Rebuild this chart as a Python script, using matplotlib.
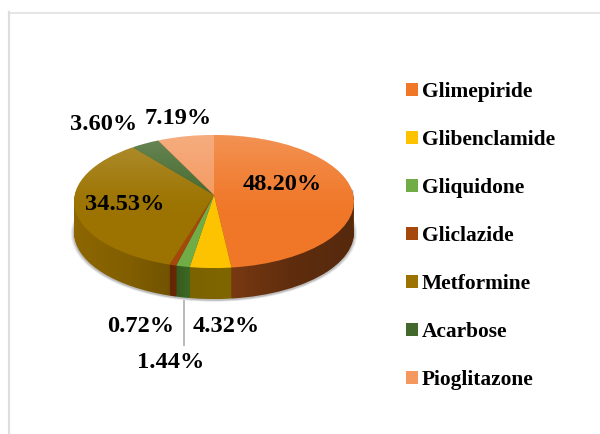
import numpy as np
import matplotlib
matplotlib.use("Agg")
import matplotlib.pyplot as plt
from matplotlib.patches import Patch, Circle
from matplotlib.path import Path
from matplotlib.transforms import Affine2D, Transform

categories = ["Glimepiride", "Glibenclamide", "Gliquidone", "Gliclazide",
              "Metformine", "Acarbose", "Pioglitazone"]
values = [48.20, 4.32, 1.44, 0.72, 34.53, 3.60, 7.19]
top_colors = ["#f07728", "#fdc200", "#70ad47", "#a5480c", "#9c7300", "#43682b", "#f4985f"]
side_colors = ["#7a3a12", "#826800", "#406e25", "#7e3006", "#8c6600", "#33501f", "#a0562a"]
value_labels = ["48.20%", "4.32%", "1.44%", "0.72%", "34.53%", "3.60%", "7.19%"]
label_pos = [(282, 185), (226, 327), (171, 362), (141, 326), (125, 204), (104, 124), (178, 119)]

plt.rcParams["font.family"] = ["Liberation Serif", "DejaVu Serif"]
fig = plt.figure(figsize=(6.0, 4.34), dpi=100)
ax = fig.add_axes([0, 0, 1, 1])
ax.set_axis_off()


class Persp(Transform):
    input_dims = output_dims = 2
    is_separable = False

    def __init__(self, k):
        super().__init__()
        self.k = k

    def transform_non_affine(self, v):
        v = np.asarray(v, float)
        w = 1 + self.k * v[:, 1]
        return np.column_stack([v[:, 0] / w, v[:, 1] / w])


CX, CY, SX, SY, K, DEPTH = 214, 195, 139.3, 65.9, 0.098, 31
persp = Persp(K) + Affine2D().scale(SX, -SY).translate(CX, CY)


def to_display(dy=0):
    return persp + Affine2D().translate(0, dy) + ax.transData


# soft shadow under the disc
for grow, alpha in [(1.022, 0.10), (1.014, 0.14), (1.007, 0.20)]:
    c = Circle((0, 0), grow, fc="#555555", ec="none", alpha=alpha, zorder=1)
    ax.add_patch(c)
    c.set_transform(to_display(DEPTH + 1))

# side wall: pies stacked one pixel apart
for dy in range(DEPTH, 0, -1):
    w, _ = ax.pie(values, colors=side_colors, startangle=90, counterclock=False, frame=True)
    for p in w:
        p.set_transform(to_display(dy))
        p.set_zorder(2)
        p.set_linewidth(0)

# horizontal shading of the side wall
theta = np.linspace(np.pi, 2 * np.pi, 200)
ring = Persp(K).transform_non_affine(np.column_stack([np.cos(theta), np.sin(theta)]))
ring[:, 0] = CX + SX * ring[:, 0]
ring[:, 1] = CY - SY * ring[:, 1] + DEPTH
side_poly = np.vstack([[ring[0, 0], 190], ring, [ring[-1, 0], 190], [ring[0, 0], 190]])
xs = np.arange(60, 370)
a = np.interp(xs, [74, 130, 172, 190, 232, 290, 354], [0.0, 0.08, 0.2, 0.05, 0.02, 0.22, 0.3])
shade = np.zeros((1, xs.size, 4))
shade[0, :, 3] = a
im = ax.imshow(shade, extent=(60, 370, 310, 190), aspect="auto", zorder=3, interpolation="bilinear")
im.set_clip_path(Path(side_poly), ax.transData)

# top face
wedges, _ = ax.pie(values, colors=top_colors, startangle=90, counterclock=False, frame=True)
for p in wedges:
    p.set_transform(to_display())
    p.set_zorder(4)
    p.set_linewidth(0)

# lighter sheen on the upper part of the top face
ys = np.arange(130, 275)
sheen = np.ones((ys.size, 1, 4))
sheen[:, 0, 3] = np.interp(ys, [135, 195, 215], [0.20, 0.03, 0.0])
im2 = ax.imshow(sheen, extent=(70, 360, 275, 130), aspect="auto", zorder=5, interpolation="bilinear")
clip = Circle((0, 0), 1.0)
clip.set_transform(to_display())
im2.set_clip_path(clip.get_path(), clip.get_transform())

# leader line
ax.plot([183.5, 183.5], [300, 346], color="#b4b4b4", lw=1.3, zorder=6, solid_capstyle="butt")

# value labels
for txt, (x, y) in zip(value_labels, label_pos):
    ax.text(x, y, txt, fontsize=17.6, fontweight="bold", color="#000000",
            ha="center", va="center", zorder=7)

# outer frame lines
ax.plot([9, 9], [12, 434], color="#dedede", lw=1.6, zorder=0)
ax.plot([9, 600], [12.5, 12.5], color="#dedede", lw=1.1, zorder=0)

ax.set_aspect("auto")
ax.set_xlim(0, 600)
ax.set_ylim(434, 0)

handles = [Patch(facecolor=c, edgecolor="none") for c in top_colors]
fig.legend(handles, categories, loc="upper left", bbox_to_anchor=(406 / 600, 1 - 82 / 434),
           frameon=False, prop={"size": 15.4, "weight": "bold"},
           handlelength=0.55, handleheight=0.55, handletextpad=0.2,
           labelspacing=1.31, borderpad=0, borderaxespad=0)

fig.savefig("out.png", dpi=100)
